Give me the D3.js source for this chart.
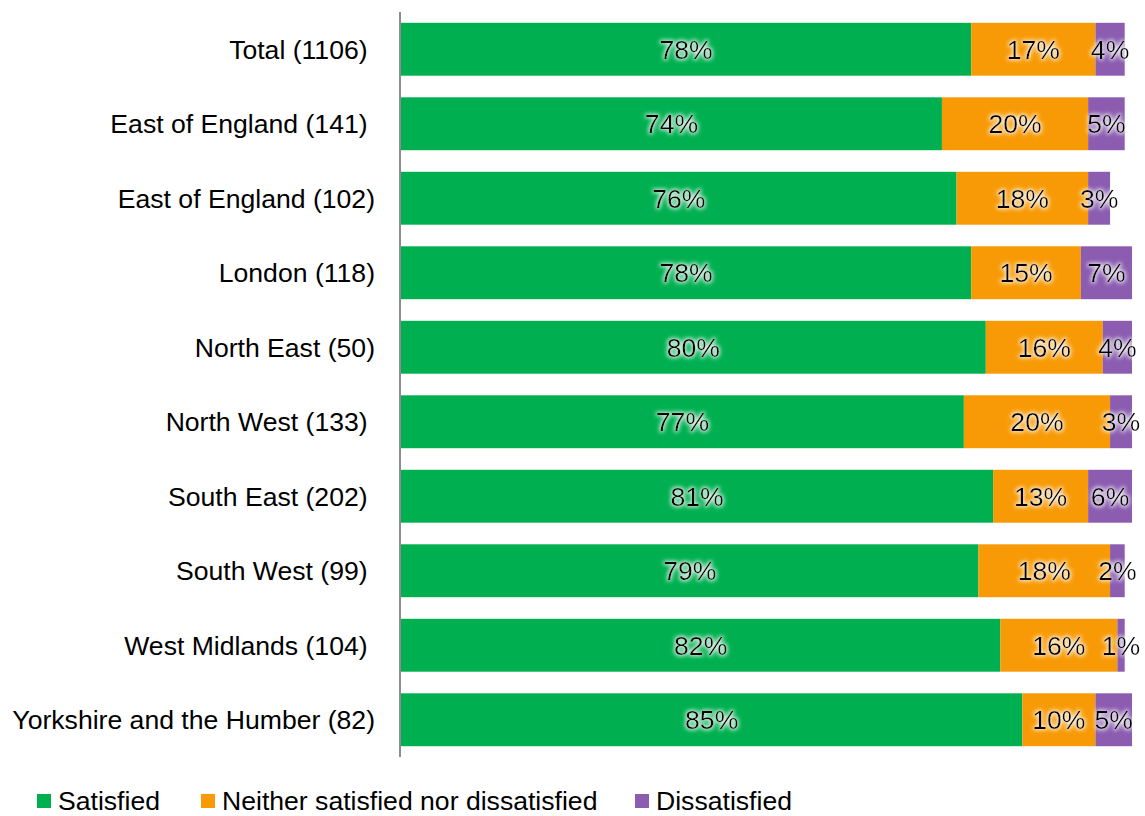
<!DOCTYPE html>
<html>
<head>
<meta charset="utf-8">
<script src="https://cdn.jsdelivr.net/npm/d3@7"></script>
<style>
  html, body { margin: 0; padding: 0; background: #fff; }
  svg text { font-family: "Liberation Sans", Arial, sans-serif; }
</style>
</head>
<body>
<svg id="chart" width="1145" height="816"></svg>
<script>
// Region names with sample sizes (trailing spaces kept as in the source labels)
const categories = [
  "Total (1106) ",
  "East of England (141) ",
  "East of England (102)",
  "London (118)",
  "North East (50)",
  "North West (133) ",
  "South East (202) ",
  "South West (99) ",
  "West Midlands (104) ",
  "Yorkshire and the Humber (82)"
];
const seriesNames = ["Satisfied", "Neither satisfied nor dissatisfied", "Dissatisfied"];
const satisfied   = [78, 74, 76, 78, 80, 77, 81, 79, 82, 85];
const neither     = [17, 20, 18, 15, 16, 20, 13, 18, 16, 10];
const dissatisfied = [4, 5, 3, 7, 4, 3, 6, 2, 1, 5];
const colors = ["#00b050", "#f79a06", "#8b5cb0"];

const rows = categories.map((c, i) => ({
  cat: c,
  [seriesNames[0]]: satisfied[i],
  [seriesNames[1]]: neither[i],
  [seriesNames[2]]: dissatisfied[i]
}));

const svg = d3.select("#chart");
const FS = 26.6;

// soft white halo behind value labels
const defs = svg.append("defs");
const glow = defs.append("filter").attr("id", "halo")
  .attr("x", "-30%").attr("y", "-30%").attr("width", "160%").attr("height", "160%");
glow.append("feMorphology").attr("in", "SourceAlpha").attr("operator", "dilate").attr("radius", 0.6).attr("result", "d");
glow.append("feGaussianBlur").attr("in", "d").attr("stdDeviation", 2).attr("result", "b");
glow.append("feFlood").attr("flood-color", "#ffffff").attr("flood-opacity", 0.85).attr("result", "w");
glow.append("feComposite").attr("in", "w").attr("in2", "b").attr("operator", "in").attr("result", "h");
const m = glow.append("feMerge");
m.append("feMergeNode").attr("in", "h");
m.append("feMergeNode").attr("in", "SourceGraphic");

const x = d3.scaleLinear().domain([0, 100]).range([401, 1132]);
const y = d3.scaleBand().domain(categories).range([12, 757]).paddingInner(0.29).paddingOuter(0.145);

const stack = d3.stack().keys(seriesNames)(rows);

const layer = svg.append("g").selectAll("g").data(stack).join("g")
  .attr("fill", (d, i) => colors[i]);

layer.selectAll("rect").data(d => d).join("rect")
  .attr("x", d => x(d[0]))
  .attr("width", d => x(d[1]) - x(d[0]))
  .attr("y", d => y(d.data.cat))
  .attr("height", y.bandwidth());

// value labels centred in each segment
const labels = svg.append("g").attr("filter", "url(#halo)");
stack.forEach(s => {
  labels.selectAll(null).data(s).join("text")
    .attr("x", d => (x(d[0]) + x(d[1])) / 2)
    .attr("y", d => y(d.data.cat) + y.bandwidth() / 2)
    .attr("dy", "0.35em")
    .attr("text-anchor", "middle")
    .attr("font-size", FS)
    .attr("fill", "#000")
    .text(d => (d[1] - d[0]) + "%");
});

// category axis
const yAxis = d3.axisLeft(y).tickSize(0).tickPadding(0);
const ag = svg.append("g").attr("transform", "translate(375,0)").call(yAxis);
ag.select(".domain").remove();
ag.selectAll("text")
  .attr("font-size", FS)
  .attr("fill", "#000")
  .attr("dy", "0.35em")
  .style("white-space", "pre")
  .style("font-family", "'Liberation Sans', Arial, sans-serif");

svg.append("line")
  .attr("x1", 400).attr("x2", 400)
  .attr("y1", y.range()[0]).attr("y2", y.range()[1])
  .attr("stroke", "#8c8c8c").attr("stroke-width", 2);

// legend
const legendX = [37, 201, 635];
const lg = svg.append("g").selectAll("g").data(seriesNames).join("g")
  .attr("transform", (d, i) => `translate(${legendX[i]},0)`);
lg.append("rect").attr("x", 0).attr("y", 794).attr("width", 14).attr("height", 14)
  .attr("fill", (d, i) => colors[i]);
lg.append("text").attr("x", 21).attr("y", 810)
  .attr("font-size", FS).attr("fill", "#000").text(d => d);
</script>
</body>
</html>
